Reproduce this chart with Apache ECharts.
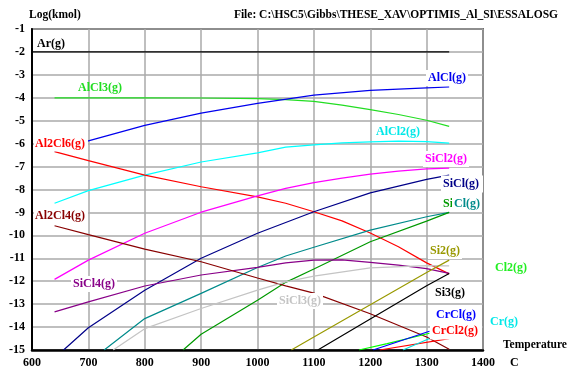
<!DOCTYPE html>
<html>
<head>
<meta charset="utf-8">
<script src="https://cdn.jsdelivr.net/npm/echarts@6/dist/echarts.min.js"></script>
<style>
html,body{margin:0;padding:0;background:#fff;}
#chart{width:574px;height:369px;}
</style>
</head>
<body>
<div id="chart"></div>
<script>
// ---- Data (temperature in C, log(kmol)) ----
const arT = [600, 1340];
const arV = [-2, -2];
const alcl3T = [640, 700, 800, 900, 1000, 1050, 1100, 1150, 1200, 1250, 1300, 1340];
const alcl3V = [-4.0, -4.0, -4.0, -4.01, -4.04, -4.08, -4.16, -4.32, -4.52, -4.73, -4.98, -5.25];
const alclT = [640, 700, 800, 900, 1000, 1100, 1200, 1300, 1340];
const alclV = [-6.33, -5.88, -5.2, -4.67, -4.24, -3.88, -3.68, -3.57, -3.53];
const alcl2T = [640, 700, 800, 900, 1000, 1050, 1100, 1150, 1200, 1250, 1300, 1340];
const alcl2V = [-8.6, -8.05, -7.37, -6.8, -6.4, -6.15, -6.05, -5.97, -5.92, -5.89, -5.91, -5.98];
const al2cl6T = [640, 700, 800, 900, 1000, 1050, 1100, 1150, 1200, 1250, 1300, 1340];
const al2cl6V = [-6.35, -6.74, -7.37, -7.88, -8.32, -8.6, -8.97, -9.37, -9.9, -10.5, -11.2, -11.68];
const sicl2T = [640, 700, 800, 900, 1000, 1050, 1100, 1150, 1200, 1250, 1300, 1340];
const sicl2V = [-11.92, -11.08, -9.91, -8.99, -8.28, -7.95, -7.7, -7.5, -7.33, -7.2, -7.1, -7.07];
const siclT = [656, 700, 800, 900, 1000, 1100, 1200, 1300, 1340];
const siclV = [-15, -14.03, -12.39, -11.0, -9.91, -8.97, -8.15, -7.56, -7.37];
const clT = [728, 800, 900, 1000, 1050, 1100, 1200, 1300, 1340];
const clV = [-15, -13.63, -12.53, -11.4, -10.9, -10.52, -9.77, -9.19, -9.0];
const siT = [868, 900, 1000, 1050, 1100, 1200, 1300, 1340];
const siV = [-15, -14.31, -12.83, -12.05, -11.47, -10.28, -9.38, -9.0];
const sicl4T = [640, 700, 800, 900, 1000, 1050, 1100, 1150, 1200, 1250, 1300, 1340];
const sicl4V = [-13.34, -12.9, -12.21, -11.73, -11.4, -11.2, -11.08, -11.07, -11.18, -11.3, -11.45, -11.66];
const al2cl4T = [640, 700, 800, 900, 1000, 1050, 1100, 1200, 1300, 1340];
const al2cl4V = [-9.58, -9.97, -10.6, -11.15, -11.86, -12.2, -12.52, -13.42, -14.43, -14.97];
const sicl3T = [744, 800, 900, 1000, 1050, 1100, 1200, 1300, 1340];
const sicl3V = [-15, -14.07, -13.19, -12.39, -12.03, -11.78, -11.42, -11.32, -11.33];
const si2T = [1060, 1100, 1200, 1300, 1340];
const si2V = [-15, -14.43, -13.03, -11.62, -11.08];
const si3T = [1107, 1200, 1300, 1340];
const si3V = [-15, -13.65, -12.2, -11.66];
const cl2T = [1180, 1230, 1305];
const cl2V = [-15, -14.72, -14.27];
const crclT = [1205, 1305];
const crclV = [-15, -14.18];
const crcl2T = [1217, 1340];
const crcl2V = [-15, -14.5];
const crT = [1258, 1305];
const crV = [-15, -14.5];

const xTicks = [600, 700, 800, 900, 1000, 1100, 1200, 1300, 1400];
const yTicks = [-1, -2, -3, -4, -5, -6, -7, -8, -9, -10, -11, -12, -13, -14, -15];

const FONT = 'bold 12px "Liberation Serif", "Times New Roman", serif';
const pair = (T, V) => T.map((t, i) => [t, V[i]]);

function line(name, T, V, color) {
  return {
    name, type: 'line', data: pair(T, V), showSymbol: false, symbol: 'none',
    lineStyle: { color, width: 1.2 }, itemStyle: { color }, smooth: false,
    clip: true, z: 3, animation: false
  };
}

function label(text, x, y, color, box, pad) {
  const el = {
    type: 'text', x, y, z: 100, silent: true,
    style: {
      text, fill: color, font: FONT, verticalAlign: 'middle', align: 'left'
    }
  };
  if (box) {
    el.style.backgroundColor = '#ffffff';
    el.style.padding = pad || [2, 2, 2, 2];
  }
  return el;
}

const chart = echarts.init(document.getElementById('chart'), null, { renderer: 'canvas' });
chart.setOption({
  animation: false,
  backgroundColor: '#ffffff',
  grid: { left: 32, right: 91, top: 29, bottom: 19, show: true, borderColor: '#000', borderWidth: 1.5, backgroundColor: 'transparent' },
  xAxis: {
    type: 'value', min: 600, max: 1400, interval: 100,
    axisLine: { show: true, lineStyle: { color: '#000', width: 2.5 } },
    axisTick: { show: false },
    axisLabel: { margin: 7, color: '#000', fontFamily: '"Liberation Serif", serif', fontWeight: 'bold', fontSize: 12,
      formatter: v => xTicks.includes(v) ? String(v) : '' },
    splitLine: { show: true, lineStyle: { color: '#aaaaaa', width: 1.5 } }
  },
  yAxis: {
    type: 'value', min: -15, max: -1, interval: 1,
    axisLine: { show: true, onZero: false, lineStyle: { color: '#000', width: 2 } },
    axisTick: { show: false },
    axisLabel: { margin: 7, color: '#000', fontFamily: '"Liberation Serif", serif', fontWeight: 'bold', fontSize: 12,
      formatter: v => yTicks.includes(v) ? String(v) : '' },
    splitLine: { show: true, lineStyle: { color: '#aaaaaa', width: 1.5 } }
  },
  series: [
    line('Ar(g)', arT, arV, '#000000'),
    line('AlCl3(g)', alcl3T, alcl3V, '#22dd22'),
    line('AlCl(g)', alclT, alclV, '#0000ee'),
    line('AlCl2(g)', alcl2T, alcl2V, '#00ffff'),
    line('Al2Cl6(g)', al2cl6T, al2cl6V, '#ff0000'),
    line('SiCl2(g)', sicl2T, sicl2V, '#ff00ff'),
    line('SiCl(g)', siclT, siclV, '#000088'),
    line('Cl(g)', clT, clV, '#008b8b'),
    line('Si(g)', siT, siV, '#009900'),
    line('SiCl4(g)', sicl4T, sicl4V, '#880088'),
    line('Al2Cl4(g)', al2cl4T, al2cl4V, '#880000'),
    line('SiCl3(g)', sicl3T, sicl3V, '#c4c4c4'),
    line('Si2(g)', si2T, si2V, '#999900'),
    line('Si3(g)', si3T, si3V, '#000000'),
    line('Cl2(g)', cl2T, cl2V, '#00ff00'),
    line('CrCl(g)', crclT, crclV, '#0000ff'),
    line('CrCl2(g)', crcl2T, crcl2V, '#ff0000'),
    line('Cr(g)', crT, crV, '#00e0e0')
  ],
  graphic: [
    { type: 'text', x: 29, y: 15, z: 100, style: { text: 'Log(kmol)', fill: '#000', font: 'bold 11.5px "Liberation Serif", serif', verticalAlign: 'middle' } },
    { type: 'text', x: 558, y: 15, z: 100, style: { text: 'File: C:\\HSC5\\Gibbs\\THESE_XAV\\OPTIMIS_Al_SI\\ESSALOSG', fill: '#000', font: 'bold 11.5px "Liberation Serif", serif', verticalAlign: 'middle', align: 'right' } },
    { type: 'text', x: 503, y: 345, z: 100, style: { text: 'Temperature', fill: '#000', font: 'bold 11.5px "Liberation Serif", serif', verticalAlign: 'middle' } },
    { type: 'text', x: 510, y: 363, z: 100, style: { text: 'C', fill: '#000', font: 'bold 12px "Liberation Serif", serif', verticalAlign: 'middle' } },
    label('Ar(g)', 37, 44, '#000000', false),
    label('AlCl3(g)', 78, 88, '#22dd22', false),
    label('AlCl(g)', 426, 78, '#0000ee', true),
    label('Al2Cl6(g)', 34, 143.5, '#ff0000', true, [2, 3, 2, 1]),
    label('AlCl2(g)', 374, 132, '#00e8e8', true),
    label('SiCl2(g)', 423, 159, '#ff00ff', true),
    label('SiCl(g)', 441, 184, '#000088', true, [3, 4, 2, 2]),
    label('Si(g)', 443, 203.5, '#009900', false),
    label('Cl(g)', 452, 203.5, '#008b8b', true, [2, 2, 2, 2]),
    label('Si2(g)', 428, 251, '#999900', true),
    label('Si3(g)', 433, 293, '#000000', true),
    label('CrCl(g)', 434, 315, '#0000ff', true),
    label('CrCl2(g)', 430, 331, '#ff0000', true, [3, 4, 2, 2]),
    label('SiCl4(g)', 71, 284, '#880088', true),
    label('Al2Cl4(g)', 34, 216, '#880000', true, [2, 3, 2, 1]),
    label('SiCl3(g)', 277, 301, '#c4c4c4', true),
    label('Cl2(g)', 495, 268, '#22ee22', false),
    label('Cr(g)', 490, 322, '#00e8e8', false)
  ]
});
</script>
</body>
</html>
